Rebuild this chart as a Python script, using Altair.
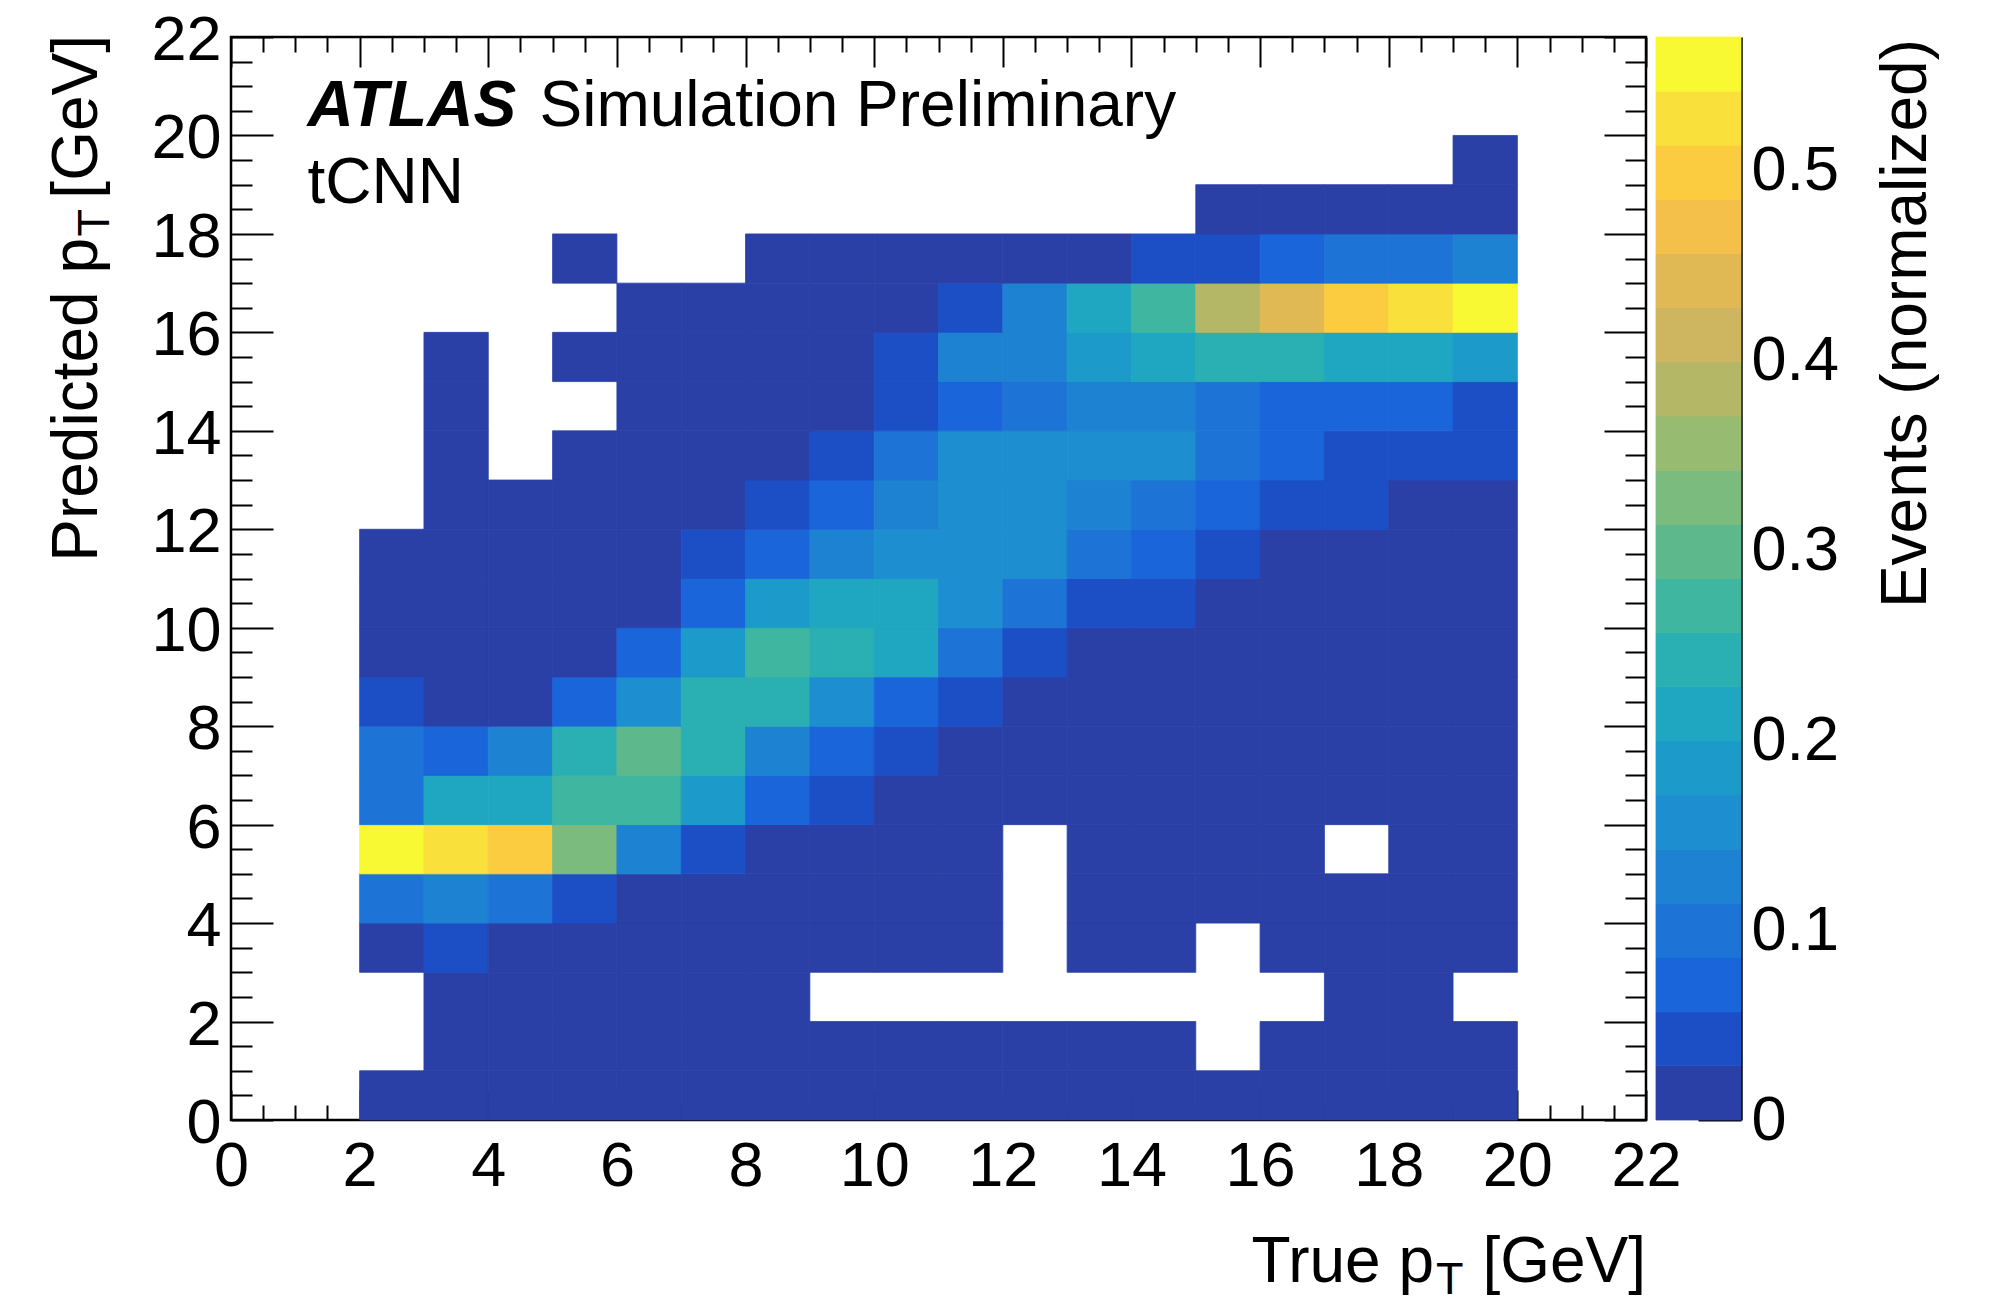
import altair as alt
import pandas as pd

FONT = "Liberation Sans"
N = None

# ---------------- data ----------------
true_pt_edges = [2, 3, 4, 5, 6, 7, 8, 9, 10, 11, 12, 13, 14, 15, 16, 17, 18, 19, 20]
pred_pt_edges = [0, 1, 2, 3, 4, 5, 6, 7, 8, 9, 10, 11, 12, 13, 14, 15, 16, 17, 18, 19, 20]

# one list per predicted-pT bin (bottom to top); entries for true-pT bins 2-3 ... 19-20
events = [
    [0.01, 0.01, 0.01, 0.01, 0.01, 0.01, 0.01, 0.01, 0.01, 0.01, 0.01, 0.01, 0.01, 0.01, 0.01, 0.01, 0.01, 0.01],
    [N, 0.01, 0.01, 0.01, 0.01, 0.01, 0.01, 0.01, 0.01, 0.01, 0.01, 0.01, 0.01, N, 0.01, 0.01, 0.01, 0.01],
    [N, 0.01, 0.01, 0.01, 0.01, 0.01, 0.01, N, N, N, N, N, N, N, N, 0.01, 0.01, N],
    [0.01, 0.04, 0.01, 0.01, 0.01, 0.01, 0.01, 0.01, 0.01, 0.01, N, 0.01, 0.01, N, 0.01, 0.01, 0.01, 0.01],
    [0.10, 0.13, 0.10, 0.04, 0.01, 0.01, 0.01, 0.01, 0.01, 0.01, N, 0.01, 0.01, 0.01, 0.01, 0.01, 0.01, 0.01],
    [0.56, 0.53, 0.50, 0.33, 0.13, 0.04, 0.01, 0.01, 0.01, 0.01, N, 0.01, 0.01, 0.01, 0.01, N, 0.01, 0.01],
    [0.10, 0.215, 0.215, 0.27, 0.27, 0.185, 0.07, 0.04, 0.01, 0.01, 0.01, 0.01, 0.01, 0.01, 0.01, 0.01, 0.01, 0.01],
    [0.10, 0.07, 0.13, 0.24, 0.30, 0.24, 0.13, 0.07, 0.04, 0.01, 0.01, 0.01, 0.01, 0.01, 0.01, 0.01, 0.01, 0.01],
    [0.04, 0.01, 0.01, 0.07, 0.155, 0.24, 0.24, 0.155, 0.07, 0.04, 0.01, 0.01, 0.01, 0.01, 0.01, 0.01, 0.01, 0.01],
    [0.01, 0.01, 0.01, 0.01, 0.07, 0.18, 0.27, 0.24, 0.215, 0.10, 0.04, 0.01, 0.01, 0.01, 0.01, 0.01, 0.01, 0.01],
    [0.01, 0.01, 0.01, 0.01, 0.01, 0.07, 0.18, 0.215, 0.215, 0.155, 0.10, 0.04, 0.04, 0.01, 0.01, 0.01, 0.01, 0.01],
    [0.01, 0.01, 0.01, 0.01, 0.01, 0.04, 0.07, 0.13, 0.155, 0.155, 0.155, 0.10, 0.07, 0.04, 0.01, 0.01, 0.01, 0.01],
    [N, 0.01, 0.01, 0.01, 0.01, 0.01, 0.04, 0.07, 0.13, 0.155, 0.155, 0.13, 0.10, 0.07, 0.04, 0.04, 0.01, 0.01],
    [N, 0.01, N, 0.01, 0.01, 0.01, 0.01, 0.04, 0.10, 0.155, 0.155, 0.155, 0.155, 0.10, 0.07, 0.04, 0.04, 0.04],
    [N, 0.01, N, N, 0.01, 0.01, 0.01, 0.01, 0.04, 0.07, 0.10, 0.13, 0.13, 0.10, 0.07, 0.07, 0.07, 0.04],
    [N, 0.01, N, 0.01, 0.01, 0.01, 0.01, 0.01, 0.04, 0.13, 0.13, 0.185, 0.215, 0.24, 0.24, 0.215, 0.215, 0.185],
    [N, N, N, N, 0.01, 0.01, 0.01, 0.01, 0.01, 0.04, 0.13, 0.215, 0.27, 0.385, 0.44, 0.50, 0.53, 0.56],
    [N, N, N, 0.01, N, N, 0.01, 0.01, 0.01, 0.01, 0.01, 0.01, 0.04, 0.04, 0.07, 0.10, 0.10, 0.13],
    [N, N, N, N, N, N, N, N, N, N, N, N, N, 0.01, 0.01, 0.01, 0.01, 0.01],
    [N, N, N, N, N, N, N, N, N, N, N, N, N, N, N, N, N, 0.01],
]

z_max = 0.57
n_levels = 20
level_colors = [
    "#2b40a6", "#1c4fc6", "#1a65da", "#1d74d6", "#1e82d2",
    "#1d8ecf", "#1c9bca", "#1fa7c1", "#2aafb2", "#3fb6a0",
    "#5db98c", "#7bbb7e", "#98bb72", "#b4b866", "#cdb65f",
    "#e0b955", "#f4c04a", "#fbcc40", "#f9e03a", "#f8f833",
]

axis_major = [0, 2, 4, 6, 8, 10, 12, 14, 16, 18, 20, 22]
axis_minor = [0.5, 1, 1.5, 2.5, 3, 3.5, 4.5, 5, 5.5, 6.5, 7, 7.5, 8.5, 9, 9.5, 10.5, 11, 11.5,
              12.5, 13, 13.5, 14.5, 15, 15.5, 16.5, 17, 17.5, 18.5, 19, 19.5, 20.5, 21, 21.5]
z_ticks = [0, 0.1, 0.2, 0.3, 0.4, 0.5]

atlas_texts = ["ATLAS", "Simulation Preliminary", "tCNN"]
x_title_parts = ["True p", "T", "[GeV]"]
y_title_parts = ["Predicted p", "T", "[GeV]"]
z_title_parts = ["Events (normalized)"]

# ---------------- build tables ----------------
records = []
for j, row in enumerate(events):
    for i, v in enumerate(row):
        if v is not None:
            records.append({"x0": true_pt_edges[i], "x1": true_pt_edges[i + 1],
                            "y0": pred_pt_edges[j], "y1": pred_pt_edges[j + 1], "v": v})
df = pd.DataFrame(records)

level_edges = [round(z_max * k / n_levels, 5) for k in range(n_levels + 1)]
bands = pd.DataFrame({"lo": level_edges[:-1], "hi": level_edges[1:], "col": level_colors,
                      "c0": [0] * n_levels, "c1": [1] * n_levels})

W, H = 1415, 1083
CBW = 85
FS = 63
TFS = 64
SUBFS = 45

xsc = alt.Scale(domain=[0, 22], nice=False, zero=False)
ysc = alt.Scale(domain=[0, 22], nice=False, zero=False)
zsc = alt.Scale(type="threshold", domain=level_edges[1:-1], range=level_colors)


def make_axis(orient, values, length, labels, pad=10, **extra):
    kw = dict(orient=orient, values=values, tickSize=length, offset=-length, domain=False,
              grid=False, ticks=True, tickColor="black", tickWidth=2, labels=labels, title=None)
    if labels:
        kw.update(format="d", labelFont=FONT, labelFontSize=FS, labelColor="black",
                  labelPadding=pad, labelFlush=False, labelOverlap=False)
    kw.update(extra)
    return alt.Axis(**kw)


heat = alt.Chart(df).mark_rect(strokeWidth=0.8).encode(
    x=alt.X("x0:Q", scale=xsc, axis=make_axis("bottom", axis_major, 30, True, pad=15)),
    x2="x1:Q",
    y=alt.Y("y0:Q", scale=ysc,
            axis=make_axis("left", axis_major, 42, True, pad=10,
                           labelBaseline="alphabetic", labelOffset=22.5)),
    y2="y1:Q",
    color=alt.Color("v:Q", scale=zsc, legend=None),
    stroke=alt.Stroke("v:Q", scale=zsc, legend=None),
)

minor_bl = alt.Chart(df).mark_point(opacity=0).encode(
    x=alt.X("x0:Q", scale=xsc, axis=make_axis("bottom", axis_minor, 15, False)),
    y=alt.Y("y0:Q", scale=ysc, axis=make_axis("left", axis_minor, 21, False)),
)
major_tr = alt.Chart(df).mark_point(opacity=0).encode(
    x=alt.X("x0:Q", scale=xsc, axis=make_axis("top", axis_major, 30, False)),
    y=alt.Y("y0:Q", scale=ysc, axis=make_axis("right", axis_major, 42, False)),
)
minor_tr = alt.Chart(df).mark_point(opacity=0).encode(
    x=alt.X("x0:Q", scale=xsc, axis=make_axis("top", axis_minor, 15, False)),
    y=alt.Y("y0:Q", scale=ysc, axis=make_axis("right", axis_minor, 21, False)),
)


def text_layer(s, x, y, size=TFS, align="left", angle=0, **style):
    return alt.Chart(pd.DataFrame({"t": [s]})).mark_text(
        align=align, baseline="alphabetic", angle=angle, font=FONT, fontSize=size,
        color="black", **style
    ).encode(text="t:N", x=alt.value(x), y=alt.value(y))


YT_X = -134.5
texts = [
    text_layer(atlas_texts[0], 76.5, 89, fontWeight="bold", fontStyle="italic"),
    text_layer(atlas_texts[1], 308.5, 89),
    text_layer(atlas_texts[2], 76.5, 166),
    text_layer(x_title_parts[0], 1203, 1245, align="right"),
    text_layer(x_title_parts[1], 1205, 1257, size=SUBFS),
    text_layer(x_title_parts[2], 1415, 1245, align="right"),
    text_layer(y_title_parts[2], YT_X, -2, align="right", angle=270),
    text_layer(y_title_parts[1], YT_X + 12, 172, size=SUBFS, align="right", angle=270),
    text_layer(y_title_parts[0], YT_X, 201, align="right", angle=270),
]

main = alt.layer(heat, minor_bl, major_tr, minor_tr, *texts).resolve_axis(
    x="independent", y="independent"
).properties(width=W, height=H, view=alt.ViewBackground(stroke="black", strokeWidth=2.5))

cbx = alt.Scale(domain=[0, 1], nice=False, zero=False)
zsc_axis = alt.Scale(domain=[0, z_max], nice=False, zero=False)
cb_rect = alt.Chart(bands).mark_rect(strokeWidth=0.8).encode(
    x=alt.X("c0:Q", scale=cbx, axis=None),
    x2="c1:Q",
    y=alt.Y("lo:Q", scale=zsc_axis,
            axis=alt.Axis(orient="right", values=z_ticks, tickSize=43, offset=-43, domain=False,
                          grid=False, tickColor="black", tickWidth=2, format=".1~f",
                          labelFont=FONT, labelFontSize=FS, labelColor="black", labelPadding=10,
                          labelFlush=False, labelOverlap=False, title=None)),
    y2="hi:Q",
    color=alt.Color("col:N", scale=None),
    stroke=alt.Stroke("col:N", scale=None),
)
cb_line = alt.Chart(bands).mark_point(opacity=0).encode(
    x=alt.X("c0:Q", scale=cbx, axis=None),
    y=alt.Y("lo:Q", scale=zsc_axis,
            axis=alt.Axis(orient="right", domain=True, domainColor="black", domainWidth=2.5,
                          ticks=False, labels=False, grid=False, title=None)),
)
cb_title = text_layer(z_title_parts[0], 270, 2, align="right", angle=270)

colorbar = alt.layer(cb_rect, cb_line, cb_title).resolve_axis(y="independent").properties(
    width=CBW, height=H, view=alt.ViewBackground(strokeWidth=0)
)

chart = alt.hconcat(main, colorbar, spacing=10, bounds="flush").properties(
    padding={"left": 36, "top": 0, "right": 0, "bottom": 0},
    background="white",
)

chart.save("out.html", embed_options={"renderer": "svg", "actions": False})
